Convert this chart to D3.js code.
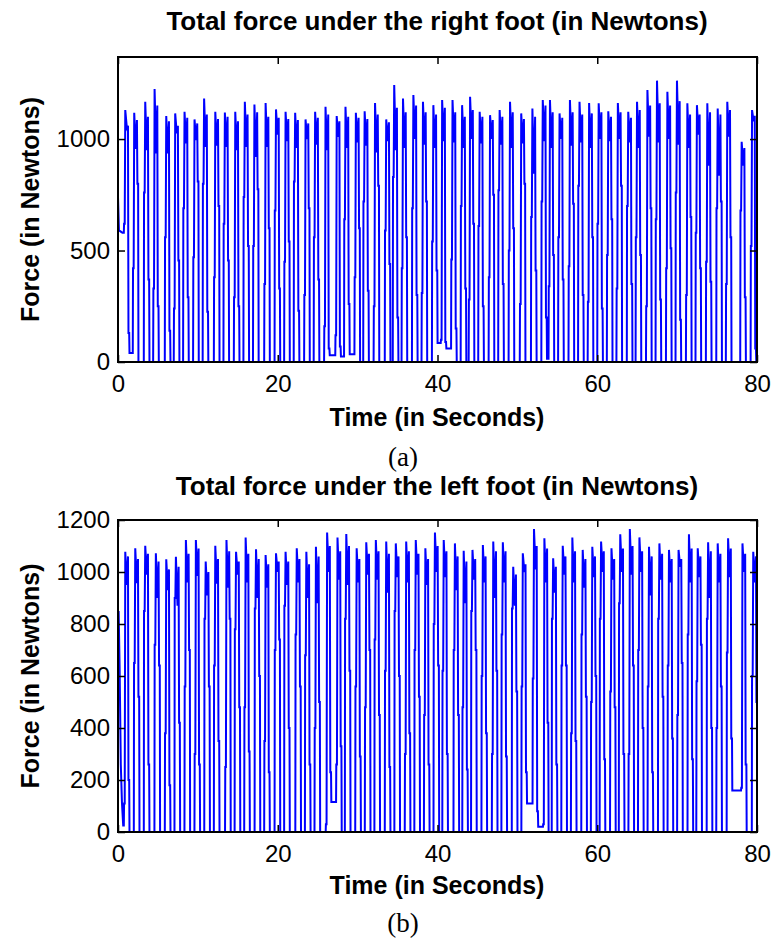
<!DOCTYPE html>
<html>
<head>
<meta charset="utf-8">
<script src="https://cdn.jsdelivr.net/npm/d3@7"></script>
<style>
  body { margin: 0; background: #fff; }
  svg text { font-family: "Liberation Sans", Arial, Helvetica, sans-serif; fill: #000; }
</style>
</head>
<body>
<svg id="fig" width="772" height="947"></svg>
<script>
// ---- Right foot: one entry per stance phase (time of mid-stance in s, forces in N) ----
const rightLead = [[0, 740], [0.12, 590], [0.55, 580]];
const rightTimes = [1.13, 2.25, 3.63, 4.80, 6.26, 7.38, 8.55, 9.80, 11.0, 12.4, 13.6, 14.9, 16.1, 17.3, 18.7, 20.0,
  21.2, 22.4, 23.7, 24.9, 26.2, 27.6, 28.7, 30.0, 31.1, 32.4, 33.8, 34.8, 35.9, 37.2, 38.4, 39.7, 40.8,
  42.1, 43.3, 44.3, 45.5, 46.8, 48.0, 49.3, 50.7, 52.1, 53.4, 54.3, 55.5, 56.8, 58.0, 59.2, 60.4,
  61.6, 62.8, 64.1, 65.2, 66.5, 67.7, 69.0, 70.2, 71.5, 72.7, 74.0, 75.3, 76.5, 78.3, 79.6];
const rightHeel = [1130, 1118, 1167, 1224, 1103, 1115, 1122, 1088, 1182, 1122, 1119, 1122, 1167, 1155, 1162, 1133,
  1122, 1118, 1088, 1122, 1145, 1103, 1145, 1118, 1125, 1162, 1088, 1242, 1182, 1197, 1167, 1152, 1175,
  1175, 1152, 1190, 1122, 1107, 1130, 1167, 1115, 1137, 1175, 1175, 1115, 1175, 1167, 1162, 1160,
  1125, 1162, 1122, 1167, 1220, 1262, 1212, 1262, 1160, 1152, 1160, 1137, 1167, 988, 1130];
const rightValley = [1050, 955, 950, 935, 935, 1025, 980, 995, 965, 970, 965, 950, 965, 920, 965, 1020,
  990, 960, 1000, 975, 950, 1010, 960, 985, 970, 940, 990, 950, 960, 1000, 975, 960, 990,
  985, 960, 1000, 980, 1000, 975, 960, 980, 845, 990, 960, 1000, 970, 985, 960, 1000,
  990, 1000, 985, 960, 1010, 985, 1000, 975, 960, 1020, 880, 835, 1010, 880, 1080];
const rightToe = [1060, 1085, 1100, 1150, 1080, 1060, 1095, 1070, 1110, 1090, 1100, 1080, 1110, 1120, 1100, 1095,
  1090, 1085, 1070, 1095, 1110, 1080, 1100, 1095, 1090, 1110, 1075, 1140, 1120, 1150, 1120, 1110, 1140,
  1120, 1100, 1130, 1100, 1085, 1100, 1120, 1090, 1100, 1150, 1120, 1095, 1120, 1110, 1115, 1120,
  1100, 1120, 1095, 1130, 1150, 1160, 1150, 1170, 1110, 1110, 1120, 1110, 1130, 960, 1105];
const rightRiseKnee = [620, 420, 760, 330, 560, 240, 690, 470, 800, 380, 620, 290, 740, 520, 350, 680,
  450, 810, 300, 560, 160, 120, 640, 380, 720, 250, 590, 830, 420, 690, 310, 540, 100,
  460, 700, 280, 610, 380, 770, 500, 260, 650, 720, 340, 560, 430, 790, 270, 620,
  480, 330, 700, 560, 250, 640, 420, 760, 300, 580, 450, 690, 350, 680, 520];
const rightFallKnee = [130, 800, 370, 250, 140, 455, 290, 810, 225, 700, 455, 250, 520, 775, 600, 330,
  540, 230, 690, 370, 60, 70, 260, 600, 320, 790, 440, 200, 560, 300, 720, 410, 90,
  150, 330, 620, 250, 750, 350, 600, 800, 410, 200, 480, 370, 710, 300, 560, 240,
  640, 790, 350, 480, 690, 280, 510, 190, 650, 420, 360, 720, 560, 290, 60];
const rightFloor = [40, 0, 0, 0, 0, 0, 0, 0, 0, 0, 0, 0, 0, 0, 0, 0,
  0, 0, 0, 0, 30, 25, 35, 0, 0, 0, 0, 0, 0, 0, 0, 85, 60,
  0, 0, 0, 0, 0, 0, 0, 0, 0, 15, 0, 0, 0, 0, 0, 0,
  0, 0, 0, 0, 0, 0, 0, 0, 0, 0, 0, 0, 0, 0, 0];

// ---- Left foot ----
const leftLead = [[0, 820], [0.08, 850], [0.2, 640], [0.35, 260], [0.5, 110], [0.65, 25]];
const leftTimes = [1.13, 2.38, 3.63, 4.96, 6.26, 7.47, 8.72, 9.97, 11.2, 12.4, 13.8, 15.0, 16.2, 17.5, 18.7, 20.0,
  21.2, 22.6, 23.8, 25.0, 26.4, 27.7, 28.8, 30.1, 31.3, 32.5, 33.8, 35.0, 36.3, 37.5, 38.7, 39.9, 41.0,
  42.4, 43.5, 44.6, 45.9, 47.2, 48.4, 49.7, 50.9, 52.3, 53.6, 54.7, 55.9, 57.1, 58.4, 59.6, 60.7,
  62.0, 63.1, 64.3, 65.5, 66.7, 68.0, 69.2, 70.4, 71.7, 72.8, 74.1, 75.3, 76.6, 78.4, 79.75];
const leftHeel = [1078, 1091, 1101, 1072, 1049, 1059, 1123, 1123, 1040, 1101, 1123, 1078, 1133, 1087, 1065, 1072,
  1078, 1091, 1078, 1097, 1152, 1133, 1146, 1091, 1114, 1123, 1117, 1110, 1117, 1123, 1091, 1152, 1123,
  1110, 1082, 1085, 1104, 1117, 1114, 1020, 1072, 1165, 1130, 1053, 1101, 1133, 1085, 1097, 1117,
  1091, 1145, 1165, 1133, 1097, 1110, 1085, 1085, 1145, 1091, 1114, 1110, 1130, 1110, 1078];
const leftValley = [950, 957, 990, 900, 930, 870, 960, 985, 910, 955, 940, 990, 960, 900, 940, 1000,
  950, 960, 900, 880, 1000, 970, 950, 960, 990, 970, 920, 980, 960, 990, 950, 1000, 980,
  930, 880, 970, 960, 900, 960, 870, 1000, 1010, 960, 920, 990, 960, 940, 980, 1000,
  970, 1000, 990, 1000, 910, 970, 960, 1020, 960, 980, 900, 960, 980, 1000, 960];
const leftToe = [1060, 1050, 1070, 1040, 1010, 1020, 1070, 1090, 1000, 1050, 1080, 1040, 1070, 1050, 1030, 1040,
  1040, 1050, 1030, 1060, 1100, 1080, 1100, 1050, 1070, 1080, 1070, 1060, 1080, 1070, 1050, 1100, 1080,
  1060, 1040, 1050, 1060, 1080, 1080, 990, 1030, 1100, 1090, 1020, 1060, 1080, 1050, 1060, 1080,
  1050, 1090, 1100, 1080, 1060, 1070, 1050, 1050, 1090, 1060, 1080, 1070, 1090, 1070, 1060];
const leftRiseKnee = [110, 650, 850, 720, 380, 900, 560, 300, 820, 640, 250, 780, 480, 860, 350, 700,
  870, 760, 680, 400, 30, 260, 820, 560, 480, 740, 620, 850, 300, 700, 450, 800, 620,
  700, 480, 850, 600, 300, 760, 860, 560, 590, 30, 820, 640, 380, 760, 500, 820,
  540, 880, 300, 700, 560, 820, 640, 450, 760, 580, 820, 400, 690, 170, 600];
const leftFallKnee = [200, 520, 260, 640, 180, 420, 700, 260, 560, 350, 820, 480, 310, 600, 230, 740,
  400, 560, 260, 500, 230, 330, 620, 290, 700, 450, 250, 600, 380, 520, 260, 640, 300,
  450, 240, 700, 380, 620, 290, 540, 230, 80, 420, 260, 640, 350, 520, 600, 280,
  480, 300, 640, 400, 230, 520, 360, 650, 280, 720, 400, 560, 360, 260, 500];
const leftFloor = [0, 0, 0, 0, 0, 0, 0, 0, 0, 0, 0, 0, 0, 0, 0, 0,
  0, 0, 0, 0, 115, 0, 0, 0, 0, 0, 0, 0, 0, 0, 0, 0, 0,
  0, 0, 0, 0, 0, 0, 0, 110, 20, 0, 0, 0, 0, 0, 0, 0,
  0, 0, 0, 0, 0, 0, 0, 0, 0, 0, 0, 0, 160, 0, 0];

// ---- Axis ticks ----
const timeTicks = [0, 20, 40, 60, 80];
const rightForceTicks = [0, 500, 1000];
const leftForceTicks = [0, 200, 400, 600, 800, 1000, 1200];

// Assemble the force trace: each stance phase is loading (with a brief pause) -> heel peak
// -> mid-stance dip -> toe-off peak -> unloading (with a brief pause) -> swing level.
function buildTrace(lead, times, heel, valley, toe, riseKnee, fallKnee, floor) {
  const pts = lead.map(d => d.slice());
  times.forEach((tc, i) => {
    const before = i === 0 ? (lead.length ? lead[lead.length - 1][1] : 0) : floor[i - 1];
    pts.push([tc - 0.40, before]);
    pts.push([tc - 0.37, riseKnee[i]]);
    pts.push([tc - 0.29, riseKnee[i]]);
    pts.push([tc - 0.22, heel[i]]);
    pts.push([tc - 0.02, valley[i]]);
    pts.push([tc + 0.12, toe[i]]);
    pts.push([tc + 0.18, fallKnee[i]]);
    pts.push([tc + 0.27, fallKnee[i]]);
    pts.push([tc + 0.31, floor[i]]);
  });
  return pts;
}

const svg = d3.select("#fig");

function drawPanel(p) {
  const x = d3.scaleLinear().domain([0, 80]).range([118, 757]);
  const y = d3.scaleLinear().domain(p.yDomain).range([p.bottom, p.top]);
  const g = svg.append("g");

  g.append("clipPath").attr("id", p.id + "-clip")
    .append("rect").attr("x", 118).attr("y", p.top).attr("width", 639).attr("height", p.bottom - p.top);

  const line = d3.line().x(d => x(d[0])).y(d => y(d[1]));
  g.append("path")
    .datum(p.data)
    .attr("clip-path", `url(#${p.id}-clip)`)
    .attr("d", line)
    .attr("fill", "none")
    .attr("stroke", "#0000ff")
    .attr("stroke-width", 2)
    .attr("stroke-linejoin", "miter");

  const tickLen = 7;
  const fmt = d3.format("d");
  const bottom = g.append("g").attr("transform", `translate(0,${p.bottom})`)
    .call(d3.axisBottom(x).tickValues(timeTicks).tickFormat(fmt).tickSizeInner(-tickLen).tickSizeOuter(0).tickPadding(13));
  const top = g.append("g").attr("transform", `translate(0,${p.top})`)
    .call(d3.axisTop(x).tickValues(timeTicks).tickFormat("").tickSizeInner(-tickLen).tickSizeOuter(0));
  const left = g.append("g").attr("transform", `translate(118,0)`)
    .call(d3.axisLeft(y).tickValues(p.yTicks).tickFormat(fmt).tickSizeInner(-tickLen).tickSizeOuter(0).tickPadding(8));
  const right = g.append("g").attr("transform", `translate(757,0)`)
    .call(d3.axisRight(y).tickValues(p.yTicks).tickFormat("").tickSizeInner(-tickLen).tickSizeOuter(0));

  [bottom, top, left, right].forEach(a => {
    a.select(".domain").remove();
    a.selectAll(".tick line").attr("stroke", "#000").attr("stroke-width", 1.5);
    a.selectAll("text").style("font-size", "24px").attr("fill", "#000");
  });

  g.append("rect")
    .attr("x", 118).attr("y", p.top).attr("width", 639).attr("height", p.bottom - p.top)
    .attr("fill", "none").attr("stroke", "#000").attr("stroke-width", 2);

  g.append("text").attr("x", 437).attr("y", p.titleY).attr("text-anchor", "middle")
    .style("font-size", "26px").style("font-weight", "bold").text(p.title);
  g.append("text").attr("x", 437).attr("y", p.xLabelY).attr("text-anchor", "middle")
    .style("font-size", "25px").style("font-weight", "bold").text("Time (in Seconds)");
  g.append("text").attr("transform", `translate(${p.yLabelX},${(p.top + p.bottom) / 2}) rotate(-90)`)
    .attr("text-anchor", "middle")
    .style("font-size", "25px").style("font-weight", "bold").text("Force (in Newtons)");
  g.append("text").attr("x", 403).attr("y", p.captionY).attr("text-anchor", "middle")
    .style("font-family", "'Liberation Serif','Times New Roman',serif")
    .style("font-size", "27px").text(p.caption);
}

drawPanel({
  id: "right", top: 57, bottom: 362, yDomain: [0, 1368], yTicks: rightForceTicks,
  title: "Total force under the right foot (in Newtons)", titleY: 30, xLabelY: 426, yLabelX: 39,
  captionY: 466, caption: "(a)",
  data: buildTrace(rightLead, rightTimes, rightHeel, rightValley, rightToe, rightRiseKnee, rightFallKnee, rightFloor)
});

drawPanel({
  id: "left", top: 520, bottom: 832, yDomain: [0, 1200], yTicks: leftForceTicks,
  title: "Total force under the left foot (in Newtons)", titleY: 495, xLabelY: 894, yLabelX: 39,
  captionY: 932, caption: "(b)",
  data: buildTrace(leftLead, leftTimes, leftHeel, leftValley, leftToe, leftRiseKnee, leftFallKnee, leftFloor)
});
</script>
</body>
</html>
